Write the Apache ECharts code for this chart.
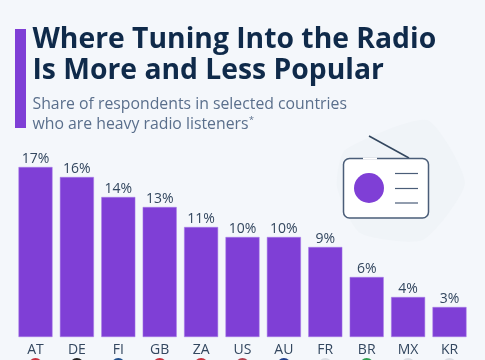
<!DOCTYPE html>
<html>
<head>
<meta charset="utf-8">
<style>
html, body { margin: 0; padding: 0; background: #f4f7fb; }
#chart { width: 485px; height: 360px; }
</style>
<script src="https://cdn.jsdelivr.net/npm/echarts@6/dist/echarts.min.js"></script>
</head>
<body>
<div id="chart"></div>
<script>
var countries = ['AT', 'DE', 'FI', 'GB', 'ZA', 'US', 'AU', 'FR', 'BR', 'MX', 'KR'];
var shares = [17, 16, 14, 13, 11, 10, 10, 9, 6, 4, 3];
var flagColors = ['#c8313e', '#222222', '#1f4e8c', '#c8313e', '#c8313e', '#b5404f', '#1f3f8c', '#d9dde3', '#2f9e4f', '#d9dde3', '#d9dde3'];

var titleLines = ['Where Tuning Into the Radio', 'Is More and Less Popular'];
var subtitleLines = ['Share of respondents in selected countries', 'who are heavy radio listeners'];

var purple = '#7f3fd6';
var navy = '#0f2a4a';
var font = '"Open Sans", sans-serif';

var richStyles = {
    code: { fontFamily: font, fontSize: 14, color: '#33475f', height: 15, lineHeight: 15 }
};
countries.forEach(function (c, i) {
    richStyles['flag' + i] = { width: 14, height: 14, borderRadius: 7, backgroundColor: flagColors[i] };
});

var chart = echarts.init(document.getElementById('chart'));
chart.setOption({
    backgroundColor: '#f4f7fb',
    animation: false,
    grid: { left: 14.8, right: 14.8, top: 167, bottom: 23, outerBoundsMode: 'none' },
    xAxis: {
        type: 'category',
        data: countries,
        axisLine: { show: false },
        axisTick: { show: false },
        axisLabel: {
            interval: 0,
            margin: 6,
            formatter: function (value, i) {
                return '{code|' + value + '}\n{flag' + i + '|}';
            },
            rich: richStyles
        }
    },
    yAxis: { type: 'value', min: 0, max: 17, show: false },
    series: [{
        type: 'bar',
        data: shares,
        barWidth: 34,
        itemStyle: { color: purple, borderColor: '#a77be6', borderWidth: 0.5 },
        label: {
            show: true,
            position: 'top',
            distance: 1,
            formatter: '{c}%',
            fontFamily: font,
            fontSize: 14,
            color: '#33475f'
        }
    }],
    graphic: [
        { type: 'rect', shape: { x: 15, y: 29, width: 11, height: 99 }, style: { fill: purple } },
        { type: 'text', style: { x: 32.5, y: 24, text: titleLines.join('\n'), font: 'bold 28.3px ' + font, lineHeight: 31.5, fill: navy } },
        { type: 'text', style: { x: 32.5, y: 94, text: subtitleLines.join('\n'), font: '15.8px ' + font, lineHeight: 20, fill: '#5a6f8c' } },
        { type: 'text', style: { x: 249, y: 116, text: '*', font: '9px ' + font, fill: '#5a6f8c' } },
        // pale blob behind the radio
        { type: 'polygon', shape: { points: [[345, 150], [427, 120], [465, 183], [423, 240], [360, 233], [337, 187]], smooth: 0.2 }, style: { fill: '#f0f4f8' } },
        // radio
        { type: 'line', shape: { x1: 369, y1: 136, x2: 409, y2: 158 }, style: { stroke: '#33475f', lineWidth: 1.5 } },
        { type: 'rect', shape: { x: 343.5, y: 158.5, width: 85, height: 59.5, r: 6 }, style: { fill: '#ffffff', stroke: '#4a5d78', lineWidth: 1.5 } },
        { type: 'line', shape: { x1: 363, y1: 158.5, x2: 377, y2: 158.5 }, style: { stroke: '#ffffff', lineWidth: 2 } },
        { type: 'circle', shape: { cx: 369, cy: 188, r: 15 }, style: { fill: purple } },
        { type: 'line', shape: { x1: 395, y1: 173.5, x2: 418, y2: 173.5 }, style: { stroke: '#4a5d78', lineWidth: 1.2 } },
        { type: 'line', shape: { x1: 395, y1: 188.5, x2: 418, y2: 188.5 }, style: { stroke: '#4a5d78', lineWidth: 1.2 } },
        { type: 'line', shape: { x1: 395, y1: 203, x2: 418, y2: 203 }, style: { stroke: '#4a5d78', lineWidth: 1.2 } }
    ]
});
</script>
</body>
</html>
